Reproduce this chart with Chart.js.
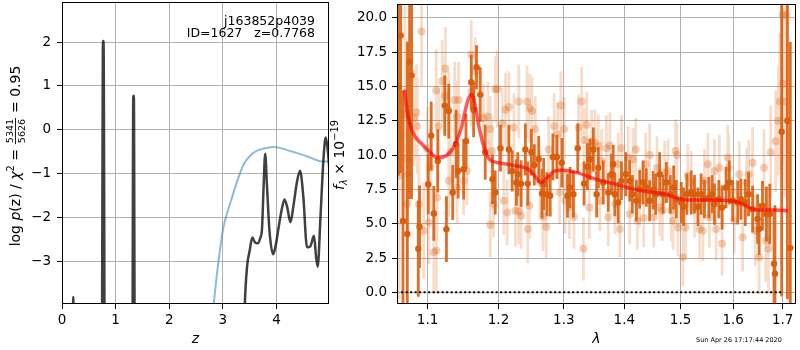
<!DOCTYPE html>
<html>
<head>
<meta charset="utf-8">
<script src="https://cdn.jsdelivr.net/npm/chart.js@4.4.1/dist/chart.umd.min.js"></script>
<style>
html, body { margin: 0; padding: 0; background: #fff; }
#wrap { position: relative; width: 800px; height: 350px; }
#pz { position: absolute; left: 0; top: 0; }
#spec { position: absolute; left: 330px; top: 0; }
</style>
</head>
<body>
<div id="wrap">
<canvas id="pz" width="330" height="350"></canvas>
<canvas id="spec" width="470" height="350"></canvas>
</div>
<script>
// ---- p(z) panel ----
var zTicks = [0, 1, 2, 3, 4];
var logpTicks = [-3, -2, -1, 0, 1, 2];

var pzZ = [0.195, 0.21, 0.225, 0.74, 0.765, 0.775, 0.80, 1.31, 1.33, 1.34, 1.36,
  3.39, 3.41, 3.45, 3.50, 3.55, 3.60, 3.65, 3.70, 3.73, 3.76, 3.79, 3.82, 3.87, 3.94, 3.99,
  4.04, 4.10, 4.15, 4.20, 4.26, 4.32, 4.38, 4.44, 4.50, 4.57, 4.63, 4.70, 4.74, 4.77, 4.82,
  4.88, 4.92, 4.96, 4.99];
var pzLog = [-6, -3.8, -6, -6, 2.02, 2.02, -6, -6, 0.78, 0.78, -6,
  -5, -3.98, -3.13, -2.75, -2.45, -2.56, -2.58, -2.45, -2.26, -1.3, -0.54, -1.2, -2.3, -2.83, -2.6,
  -2.22, -1.8, -1.58, -1.75, -2.1, -1.7, -1.2, -0.93, -1.5, -2.67, -2.65, -2.41, -2.9, -3.11, -2.0,
  -0.6, -0.17, -0.5, -0.95];

var priorZ = [2.78, 2.83, 2.92, 3.01, 3.09, 3.17, 3.28, 3.39, 3.50, 3.61, 3.75, 3.94, 4.10, 4.25, 4.45, 4.65, 4.85, 4.99];
var priorLog = [-4.6, -3.96, -2.98, -2.22, -1.85, -1.54, -1.12, -0.78, -0.60, -0.49, -0.43, -0.39, -0.42, -0.48, -0.55, -0.64, -0.72, -0.72];

// ---- spectrum panel ----
var lamTicks = [1.1, 1.2, 1.3, 1.4, 1.5, 1.6, 1.7];
var fluxTicks = [0, 2.5, 5, 7.5, 10, 12.5, 15, 17.5, 20];

var lamDark = [1.0615, 1.0644, 1.0674, 1.0731, 1.0761, 1.0787, 1.0876, 1.0893, 1.1009, 1.105, 1.1085, 1.1139, 1.1235, 1.1258, 1.129, 1.1345, 1.1392, 1.142, 1.1498, 1.1531, 1.1606, 1.1639, 1.1681, 1.1734, 1.1806, 1.1912, 1.1952,
  1.2029, 1.2153, 1.2202, 1.2266, 1.2287, 1.2337, 1.2402, 1.2438, 1.2493, 1.2538, 1.2606, 1.2657, 1.2683, 1.2734, 1.2785, 1.2827, 1.289, 1.2968, 1.3059, 1.31, 1.3154, 1.3224, 1.3326, 1.3381, 1.3424, 1.3479, 1.3534,
  1.3562, 1.3644, 1.3728, 1.3783, 1.3812, 1.3839, 1.3896, 1.3952, 1.4026, 1.4094, 1.414, 1.421, 1.4267, 1.4326, 1.4384, 1.4442, 1.4504, 1.455, 1.4621, 1.4682, 1.4741, 1.4813, 1.4873, 1.4921, 1.5013, 1.5055, 1.5117, 1.5197, 1.5258,
  1.5322, 1.5383, 1.5446, 1.5529, 1.5592, 1.5636, 1.572, 1.5783, 1.586, 1.5924, 1.599, 1.6088, 1.6152, 1.6238, 1.6305, 1.6385, 1.6485, 1.6516, 1.6584, 1.6665, 1.6733, 1.6821, 1.6841, 1.6979, 1.7098, 1.716];
var fluxDark = [15.0, 18.7, 5.2, 4.25, 16.8, 15.8, 3.17, 4.78, 7.88, 11.4, 5.75, 9.57, 13.6, 4.6, 13.2, 7.27, 10.8, 8.84, 8.96, 11.0, 15.3, 13.3, 16.4, 14.4, 10.2, 8.24, 7.27,
  10.5, 10.4, 8.84, 8.0, 8.6, 7.92, 10.4, 7.92, 10.2, 9.28, 9.69, 7.2, 7.88, 7.15, 7.03, 9.86, 9.86, 9.44, 7.03, 7.63, 7.15, 10.5, 7.92, 9.15, 9.69, 10.4, 7.15,
  9.08, 8.0, 7.27, 8.6, 9.33, 7.15, 6.54, 8.12, 8.6, 8.12, 7.15, 6.67, 7.51, 8.0, 7.63, 6.67, 7.44, 7.15, 8.6, 7.15, 8.0, 7.15, 7.63, 6.79, 6.54, 6.23, 7.15, 7.27, 7.15,
  6.23, 7.15, 6.79, 6.9, 7.15, 6.43, 6.79, 6.18, 7.63, 8.0, 6.67, 6.54, 6.79, 6.54, 7.15, 6.06, 5.34, 4.61, 6.3, 5.7, 5.7, 2.08, 1.35, 11.7, 12.5, 3.24];
var errDark = [6.5, 10, 9.5, 14, 10, 9, 3.5, 3, 2.2, 2.5, 2.0, 2.3, 2.2, 2.4, 2.0, 2.0, 2.5, 2.0, 2.2, 2.0, 2.0, 2.0, 1.6, 2.0, 2.0, 1.8, 1.6,
  1.7, 1.8, 1.5, 1.7, 1.6, 1.7, 1.9, 1.6, 1.7, 1.5, 1.7, 1.8, 1.9, 1.6, 1.5, 1.7, 1.6, 1.8, 1.6, 1.5, 1.7, 1.8, 1.6, 1.7, 1.5, 1.6, 1.7,
  1.5, 1.6, 1.4, 1.5, 1.4, 1.6, 1.5, 1.4, 1.6, 1.5, 1.4, 1.5, 1.4, 1.6, 1.4, 1.5, 1.4, 1.5, 1.6, 1.4, 1.5, 1.4, 1.6, 1.4, 1.5, 1.4, 1.5, 1.6, 1.4,
  1.4, 1.5, 1.4, 1.5, 1.4, 1.5, 1.4, 1.6, 1.5, 1.6, 1.5, 1.6, 1.5, 1.7, 1.6, 1.7, 1.8, 1.9, 1.8, 2.0, 2.2, 4, 5, 12, 13, 15];

var lamLight = [1.0625, 1.07, 1.092, 1.0818, 1.0863, 1.0744, 1.0744, 1.0731, 1.0884, 1.095, 1.1017, 1.1085, 1.1121, 1.113, 1.104, 1.0996, 1.1117, 1.1199, 1.1244, 1.1235, 1.129, 1.1372, 1.1428, 1.1406, 1.1313, 1.129, 1.1406, 1.1498, 1.1545, 1.1606, 1.1663, 1.1606, 1.1781, 1.1844, 1.1879, 1.1903, 1.1927, 1.1879, 1.1952, 1.1153, 1.085,
  1.1981, 1.2054, 1.2079, 1.2103, 1.2153, 1.2128, 1.2228, 1.2251, 1.2302, 1.2302, 1.2337, 1.2427, 1.2468, 1.2503, 1.2554, 1.2438, 1.2462, 1.263, 1.2671, 1.2722, 1.276, 1.2847, 1.2901, 1.2952, 1.3005, 1.2932, 1.3021, 1.309, 1.3163, 1.3237, 1.3288, 1.3326, 1.337, 1.3316, 1.3451, 1.3506, 1.3414,
  1.3562, 1.3588, 1.3616, 1.3697, 1.3755, 1.3728, 1.3839, 1.3896, 1.3923, 1.3952, 1.4067, 1.4094, 1.4152, 1.4198, 1.4225, 1.4267, 1.4337, 1.4371, 1.4442, 1.4515, 1.4574, 1.4621, 1.4669, 1.471, 1.4771, 1.4831, 1.4861, 1.4909, 1.4934, 1.4952, 1.5044, 1.5092, 1.5135, 1.5197, 1.5258,
  1.5352, 1.5415, 1.5446, 1.551, 1.554, 1.5636, 1.5668, 1.5731, 1.5783, 1.5893, 1.5912, 1.6021, 1.6119, 1.6185, 1.6266, 1.6305, 1.6385, 1.6437, 1.6516, 1.6617, 1.6651, 1.6706, 1.6753, 1.6855, 1.6911, 1.6938, 1.7006, 1.7048, 1.7077, 1.6995];
var fluxLight = [8.5, 13.0, 19.0, 12.7, 12.1, 9.69, 8.6, 6.43, 6.43, 4.49, 5.09, 2.92, 3.04, 6.9, 9.08, 10.5, 14.7, 15.4, 16.3, 14.3, 13.3, 14.0, 14.0, 12.8, 10.2, 8.12, 7.63, 8.12, 8.84, 17.3, 16.1, 14.6, 12.7, 12.8, 11.9, 10.3, 6.43, 4.93, 14.8, 12.1, 13.1,
  14.8, 12.3, 6.67, 13.3, 13.5, 5.82, 12.0, 5.94, 5.89, 13.9, 5.58, 13.9, 13.4, 13.2, 11.9, 4.61, 6.3, 8.0, 5.5, 4.78, 10.4, 12.1, 11.5, 13.6, 11.9, 7.27, 6.67, 6.18, 5.5, 12.0, 13.9, 11.1, 12.2, 3.17, 11.0, 10.9, 6.18,
  10.65, 6.67, 9.57, 10.5, 10.7, 5.46, 6.43, 9.33, 4.61, 10.5, 9.8, 5.7, 9.69, 10.4, 5.22, 6.9, 5.41, 9.33, 10.0, 5.46, 9.08, 6.18, 5.94, 8.72, 8.84, 5.94, 5.22, 10.3, 10.0, 4.73, 2.56, 4.73, 8.48, 8.0, 6.18,
  4.61, 4.49, 8.12, 9.33, 5.46, 8.84, 4.61, 9.08, 3.53, 9.8, 9.08, 5.22, 8.6, 4.01, 8.0, 8.6, 9.44, 4.49, 2.56, 9.08, 3.77, 3.17, 10.2, 11.0, 12.5, 13.9, 15.2, 13.9, 20.2, 20.2];
var errLight = [9, 8, 4, 3.5, 3.5, 4, 4.5, 4, 3.5, 3.5, 3, 3, 3, 3, 3, 3, 3, 3, 3, 2.8, 2.8, 2.8, 2.8, 2.6, 2.6, 2.6, 2.6, 2.5, 2.5, 2.5, 2.5, 2.5, 2.5, 2.5, 2.4, 2.4, 2.4, 2.4, 2.4, 2.8, 3.5,
  2.8, 2.6, 2.5, 2.7, 2.6, 2.4, 2.5, 2.6, 2.4, 2.7, 2.4, 2.6, 2.5, 2.5, 2.4, 2.5, 2.4, 2.3, 2.5, 2.3, 2.4, 2.4, 2.3, 2.5, 2.3, 2.3, 2.4, 2.3, 2.3, 2.4, 2.5, 2.3, 2.4, 2.3, 2.3, 2.4, 2.3,
  2.3, 2.2, 2.3, 2.4, 2.4, 2.1, 2.2, 2.3, 2.1, 2.4, 2.3, 2.2, 2.3, 2.3, 2.1, 2.2, 2.1, 2.3, 2.3, 2.2, 2.3, 2.1, 2.2, 2.3, 2.3, 2.2, 2.1, 2.3, 2.3, 2.1, 2.1, 2.2, 2.3, 2.3, 2.2,
  2.2, 2.2, 2.3, 2.3, 2.2, 2.3, 2.3, 2.4, 2.3, 2.4, 2.4, 2.4, 2.4, 2.5, 2.5, 2.5, 2.6, 2.6, 2.7, 2.8, 3.0, 3.2, 3.4, 3.7, 4, 5, 6, 7, 8, 9];

var modelLam = [1.0696, 1.0728, 1.0795, 1.0929, 1.1063, 1.113, 1.1219, 1.1353, 1.1465, 1.1554, 1.1607, 1.1643, 1.171, 1.1777, 1.1867, 1.2, 1.2274, 1.2445, 1.2566, 1.2639, 1.2737, 1.2859, 1.2957, 1.3206, 1.3523, 1.384, 1.4094, 1.4379, 1.472, 1.4947, 1.5135, 1.5287, 1.5593, 1.5959, 1.6119, 1.6314, 1.6509, 1.6855, 1.7118];
var modelFlux = [14.76, 13.2, 11.74, 10.77, 10.05, 9.8, 9.86, 10.53, 11.98, 13.91, 14.4, 14.04, 12.22, 10.77, 9.69, 9.44, 9.2, 8.96, 8.36, 7.99, 8.36, 8.84, 8.89, 8.72, 8.24, 7.88, 7.59, 7.34, 7.15, 6.86, 6.72, 6.72, 6.72, 6.67, 6.54, 6.18, 5.99, 5.99, 5.94];

var zeroLam = [1.065, 1.702];
var zeroFlux = [0, 0];

var ORANGE = 'rgb(217,95,14)';

Chart.defaults.font.family = 'DejaVu Sans';
Chart.defaults.font.size = 13.5;
Chart.defaults.color = '#000';

function pairs(xs, ys) {
  return xs.map(function (x, i) { return {x: x, y: ys[i]}; });
}

function errorSegments(xs, ys, es) {
  var out = [];
  for (var i = 0; i < xs.length; i++) {
    out.push({x: xs[i], y: ys[i] - es[i]});
    out.push({x: xs[i], y: ys[i] + es[i]});
    out.push({x: xs[i], y: null});
  }
  return out;
}

function minusLabel(v, digits) {
  var s = digits ? Math.abs(v).toFixed(digits) : String(Math.abs(v));
  return v < 0 ? '\u2212' + s : s;
}

function fixWidth(w) {
  return function (scale) {
    scale.width = w;
    scale.paddingTop = scale.paddingBottom = scale.paddingLeft = scale.paddingRight = 0;
  };
}
function fixHeight(h) {
  return function (scale) {
    scale.height = h;
    scale.paddingTop = scale.paddingBottom = scale.paddingLeft = scale.paddingRight = 0;
  };
}
function setTicks(values) {
  return function (scale) {
    scale.ticks = values.map(function (v) { return {value: v}; });
  };
}

var gridOpts = {color: '#b0b0b0', lineWidth: 1, tickColor: '#000', tickLength: 5, drawTicks: true};

var framePlugin = {
  id: 'frame',
  afterDraw: function (chart) {
    var a = chart.chartArea, c = chart.ctx;
    c.save();
    c.strokeStyle = '#000';
    c.lineWidth = 1;
    c.strokeRect(Math.round(a.left) + 0.5, Math.round(a.top) + 0.5,
      Math.round(a.right - a.left) - 1, Math.round(a.bottom - a.top) - 1);
    c.restore();
  }
};

// rotated rich text (pieces drawn along the label)
function drawRotated(ctx, pieces, cx, cy) {
  var total = 0;
  pieces.forEach(function (p) {
    ctx.font = p.font;
    if (p.frac) {
      p.w = Math.max(ctx.measureText(p.frac[0]).width, ctx.measureText(p.frac[1]).width) + 3;
    } else {
      p.w = ctx.measureText(p.text).width;
    }
    total += p.w;
  });
  ctx.save();
  ctx.translate(cx, cy);
  ctx.rotate(-Math.PI / 2);
  ctx.fillStyle = '#000';
  ctx.textBaseline = 'alphabetic';
  var x = -total / 2;
  pieces.forEach(function (p) {
    ctx.font = p.font;
    if (p.frac) {
      ctx.textAlign = 'center';
      ctx.fillText(p.frac[0], x + p.w / 2, -6.6);
      ctx.fillText(p.frac[1], x + p.w / 2, 4.6);
      ctx.fillRect(x + 0.5, -4.9, p.w - 1, 0.9);
      ctx.textAlign = 'left';
    } else {
      ctx.textAlign = 'left';
      ctx.fillText(p.text, x, p.dy || 0);
    }
    x += p.w;
  });
  ctx.restore();
}

var F = '14px "DejaVu Sans"', FI = 'italic 14px "DejaVu Sans"', FS = '9.5px "DejaVu Sans"', FSI = 'italic 9.8px "DejaVu Sans"';

var pzText = {
  id: 'pzText',
  afterDraw: function (chart) {
    var c = chart.ctx;
    c.save();
    c.fillStyle = '#000';
    c.font = '12.5px "DejaVu Sans"';
    c.textAlign = 'right';
    c.textBaseline = 'alphabetic';
    c.fillText('j163852p4039', 315, 25);
    c.fillText('ID=1627   z=0.7768', 315, 37);
    c.restore();
    drawRotated(c, [
      {text: 'log ', font: F}, {text: 'p', font: FI}, {text: '(z) / ', font: F},
      {text: '\u03c7', font: FI}, {text: '2', font: '9.8px "DejaVu Sans"', dy: -6}, {text: ' = ', font: F},
      {frac: ['5341', '5626'], font: FS}, {text: ' = 0.95', font: F}
    ], 20, 156);
  }
};

var specText = {
  id: 'specText',
  afterDraw: function (chart) {
    var c = chart.ctx;
    drawRotated(c, [
      {text: 'f', font: FI}, {text: '\u03bb', font: FSI, dy: 3}, {text: ' \u00d7 10', font: F},
      {text: '\u221219', font: '9.8px "DejaVu Sans"', dy: -6}
    ], 14, 155);
    c.save();
    c.fillStyle = '#000';
    c.font = '6.5px "DejaVu Sans"';
    c.textAlign = 'left';
    c.fillText('Sun Apr 26 17:17:44 2020', 366, 342);
    c.restore();
  }
};

new Chart(document.getElementById('pz').getContext('2d'), {
  type: 'scatter',
  data: {
    datasets: [{
      type: 'line',
      data: pairs(pzZ, pzLog),
      borderColor: 'rgba(0,0,0,0.75)',
      borderWidth: 2.5,
      pointRadius: 0,
      cubicInterpolationMode: 'monotone',
      order: 1
    }, {
      type: 'line',
      data: pairs(priorZ, priorLog),
      borderColor: 'rgba(31,119,180,0.5)',
      borderWidth: 2,
      pointRadius: 0,
      cubicInterpolationMode: 'monotone',
      order: 2
    }]
  },
  options: {
    responsive: false,
    animation: false,
    devicePixelRatio: 1,
    layout: {padding: {top: 2, right: 1, left: 0, bottom: 0}},
    plugins: {legend: {display: false}, tooltip: {enabled: false}},
    scales: {
      x: {
        type: 'linear', min: 0, max: 4.98,
        grid: gridOpts, border: {display: false},
        ticks: {padding: 3, callback: function (v) { return minusLabel(v); }},
        afterBuildTicks: setTicks(zTicks),
        afterFit: fixHeight(46),
        title: {display: true, text: 'z', font: {style: 'italic', size: 14}, padding: {top: 0, bottom: 2}}
      },
      y: {
        type: 'linear', min: -3.96, max: 2.91,
        grid: gridOpts, border: {display: false},
        ticks: {padding: 6, callback: function (v) { return minusLabel(v); }},
        afterBuildTicks: setTicks(logpTicks),
        afterFit: fixWidth(62)
      }
    }
  },
  plugins: [framePlugin, pzText]
});

new Chart(document.getElementById('spec').getContext('2d'), {
  type: 'scatter',
  data: {
    datasets: [{
      type: 'line',
      data: pairs(zeroLam, zeroFlux),
      borderColor: '#000',
      borderWidth: 2,
      borderDash: [2, 2.5],
      pointRadius: 0,
      order: 0
    }, {
      type: 'line',
      data: pairs(modelLam, modelFlux),
      borderColor: 'rgba(255,0,0,0.65)',
      borderWidth: 3.5,
      pointRadius: 0,
      cubicInterpolationMode: 'monotone',
      order: 1
    }, {
      data: pairs(lamDark, fluxDark),
      pointRadius: 3.2,
      pointBorderWidth: 0,
      backgroundColor: ORANGE,
      order: 2
    }, {
      type: 'line',
      data: errorSegments(lamDark, fluxDark, errDark),
      borderColor: 'rgba(217,95,14,0.9)',
      borderWidth: 2.8,
      pointRadius: 0,
      spanGaps: false,
      order: 3
    }, {
      data: pairs(lamLight, fluxLight),
      pointRadius: 4,
      pointBorderWidth: 0,
      backgroundColor: 'rgba(217,95,14,0.3)',
      order: 4
    }, {
      type: 'line',
      data: errorSegments(lamLight, fluxLight, errLight),
      borderColor: 'rgba(217,95,14,0.22)',
      borderWidth: 2.8,
      pointRadius: 0,
      spanGaps: false,
      order: 5
    }]
  },
  options: {
    responsive: false,
    animation: false,
    devicePixelRatio: 1,
    layout: {padding: {top: 2, right: 1, left: 0, bottom: 0}},
    plugins: {legend: {display: false}, tooltip: {enabled: false}},
    scales: {
      x: {
        type: 'logarithmic', min: 1.0596, max: 1.728,
        grid: gridOpts, border: {display: false},
        ticks: {padding: 3, callback: function (v) { return v.toFixed(1); }},
        afterBuildTicks: setTicks(lamTicks),
        afterFit: fixHeight(46),
        title: {display: true, text: '\u03bb', font: {style: 'italic', size: 14}, padding: {top: 0, bottom: 2}}
      },
      y: {
        type: 'linear', min: -0.85, max: 21.0,
        grid: gridOpts, border: {display: false},
        ticks: {padding: 5, callback: function (v) { return minusLabel(v, 1); }},
        afterBuildTicks: setTicks(fluxTicks),
        afterFit: fixWidth(67)
      }
    }
  },
  plugins: [framePlugin, specText]
});
</script>
</body>
</html>
